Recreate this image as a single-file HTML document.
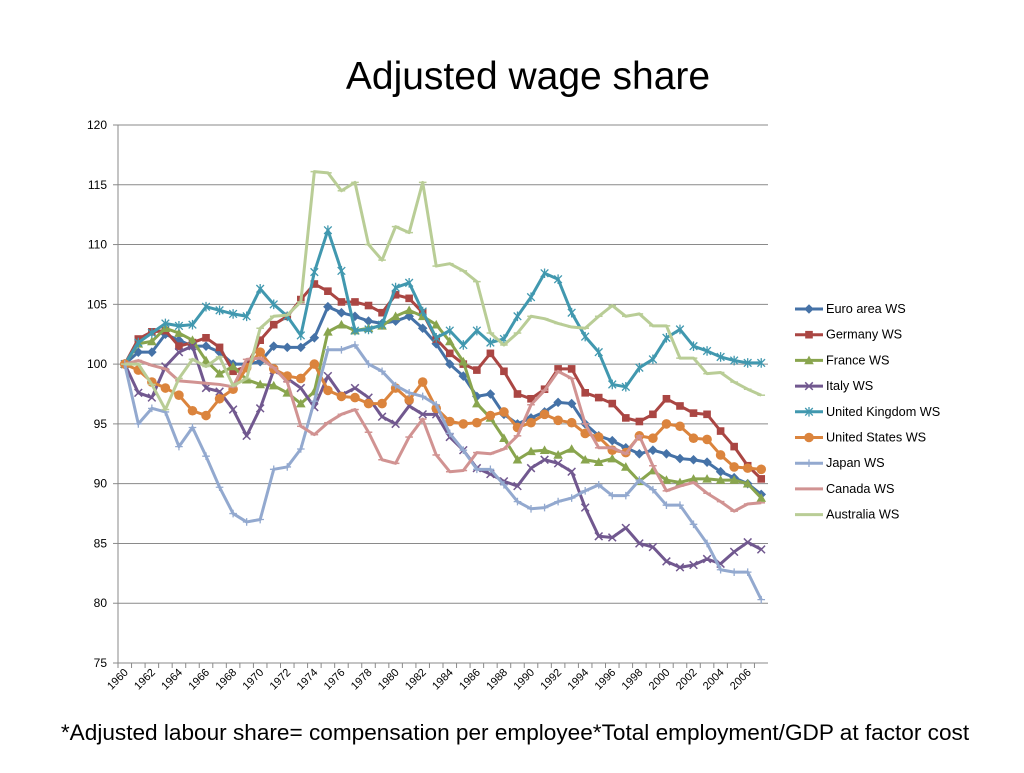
<!DOCTYPE html>
<html><head><meta charset="utf-8"><style>
body{margin:0;background:#fff;font-family:"Liberation Sans",sans-serif}
</style></head><body>
<svg id="c" width="1024" height="768" xmlns="http://www.w3.org/2000/svg" font-family="Liberation Sans, sans-serif">
<text x="528" y="89" font-size="39" text-anchor="middle">Adjusted wage share</text>
<text x="515" y="740" font-size="22.6" text-anchor="middle">*Adjusted labour share= compensation per employee*Total employment/GDP at factor cost</text>
</svg>
<script>
const years=[];for(let y=1960;y<=2007;y++)years.push(y);
const yTicks=[75,80,85,90,95,100,105,110,115,120];
const names=["Euro area WS","Germany WS","France WS","Italy WS","United Kingdom WS","United States WS","Japan WS","Canada WS","Australia WS"];
const euro=[100,101,101,102.5,102,101.5,101.5,101,100,100,100.2,101.5,101.4,101.4,102.2,104.8,104.3,104,103.6,103.4,103.6,104,103,101.7,100,99,97.3,97.5,95.8,95,95.5,96,96.8,96.7,95,94,93.6,93,92.5,92.8,92.5,92.1,92,91.8,91,90.5,90,89.1];
const germany=[100,102.1,102.7,102.8,101.5,101.8,102.2,101.4,99.4,99.8,102,103.3,104,105.4,106.7,106.1,105.2,105.2,104.9,104.3,105.8,105.5,104.3,102.1,100.9,100,99.5,100.9,99.4,97.5,97.1,97.9,99.6,99.6,97.6,97.2,96.7,95.5,95.2,95.8,97.1,96.5,95.9,95.8,94.4,93.1,91.5,90.4];
const france=[100,101.7,101.9,103,102.6,102,100.3,99.2,99.8,98.7,98.3,98.2,97.6,96.7,97.7,102.7,103.3,102.8,103,103.2,104,104.5,104,103.3,101.9,100.2,96.7,95.5,93.8,92,92.7,92.8,92.4,92.9,92,91.8,92.1,91.4,90.2,91.1,90.3,90.1,90.4,90.4,90.3,90.3,90,88.8];
const italy=[100,97.6,97.2,99.8,101,101.5,98,97.7,96.2,94,96.3,99.5,98.8,98,96.4,99,97.4,98,97.2,95.6,95,96.5,95.8,95.8,93.9,92.8,91.3,90.8,90.2,89.8,91.3,92,91.7,91,88,85.6,85.5,86.3,85,84.7,83.5,83,83.2,83.7,83.3,84.3,85.1,84.5];
const uk=[100,101.8,102.6,103.4,103.2,103.3,104.8,104.5,104.2,104,106.3,105,104,102.4,107.7,111.2,107.8,102.8,102.9,103.3,106.4,106.8,104.4,102.2,102.8,101.6,102.8,101.8,102.1,104,105.6,107.6,107.1,104.3,102.3,101,98.3,98.1,99.7,100.4,102.2,102.9,101.5,101.1,100.6,100.3,100.1,100.1];
const us=[100,99.5,98.5,98,97.4,96.1,95.7,97.1,97.9,99.7,101,99.6,99,98.8,100,97.8,97.3,97.2,96.7,96.7,98,97,98.5,96.3,95.2,95,95.1,95.7,96,94.7,95.1,95.8,95.3,95.1,94.2,93.9,92.8,92.6,94,93.8,95,94.8,93.8,93.7,92.4,91.4,91.3,91.2];
const japan=[100,95,96.3,96,93.1,94.7,92.3,89.7,87.5,86.8,87,91.2,91.4,92.9,96.9,101.2,101.2,101.6,100,99.4,98.2,97.6,97.3,96.6,94.2,92.8,91.2,91.2,89.9,88.5,87.9,88,88.5,88.8,89.4,89.9,89,89,90.3,89.5,88.2,88.2,86.6,85,82.8,82.6,82.6,80.3];
const canada=[100,100.3,99.9,99.6,98.6,98.5,98.4,98.3,98.1,100.4,100.5,99.7,98.5,94.8,94.1,95.1,95.8,96.2,94.3,92,91.7,93.9,95.4,92.4,91,91.1,92.6,92.5,92.9,94,96.6,97.8,99.4,98.8,95,93,93,92.5,94,91.5,89.4,89.8,90.1,89.2,88.5,87.7,88.3,88.4];
const australia=[100,100,98.3,96.2,98.8,100.4,99.8,100.6,98.2,98.8,103,104,104.1,105.2,116.1,116,114.5,115.2,110,108.7,111.5,111,115.2,108.2,108.4,107.8,106.9,102.6,101.6,102.6,104,103.8,103.4,103.1,103,104,104.9,104,104.2,103.2,103.2,100.5,100.5,99.2,99.3,98.5,97.9,97.4];
const seriesData=[euro,germany,france,italy,uk,us,japan,canada,australia];
const colors=["#4572A7","#AA4643","#89A54E","#71588F","#4198AF","#DB843D","#93A9CF","#D19392","#B9CD96"];
const markers=["diamond","square","triangle","x","star","circle","plus","dash","dash"];
const L=118,R=768,T=125,B=663,ymin=75,ymax=120;
const step=(R-L)/years.length;
const xs=i=>L+step*(i+0.5);
const ys=v=>B-(v-ymin)/(ymax-ymin)*(B-T);
const svg=document.getElementById('c');const NS="http://www.w3.org/2000/svg";
function mk(tag,a,p){const e=document.createElementNS(NS,tag);for(const k in a)e.setAttribute(k,a[k]);(p||svg).appendChild(e);return e;}
yTicks.forEach(v=>{
 const g=mk('line',{x1:L,x2:R,y1:ys(v),y2:ys(v),stroke:'#8a8a8a','stroke-width':1});
 
 
 const t=mk('text',{x:107,y:ys(v)+4,'font-size':12,'text-anchor':'end'});t.textContent=v;
 
 
 mk('line',{x1:L-5,x2:L,y1:ys(v),y2:ys(v),stroke:'#8a8a8a'});
});
const ax=mk('line',{x1:L,x2:L,y1:T,y2:B,stroke:'#8a8a8a'});


years.forEach((y,i)=>{
 mk('line',{x1:L+step*i,x2:L+step*i,y1:B,y2:B+5,stroke:'#8a8a8a'});
 if(i%2==0){const x=xs(i)+4,yy=B+10;const t=mk('text',{x:x,y:yy,'font-size':11,'text-anchor':'end',transform:`rotate(-45 ${x} ${yy})`});t.textContent=y;
 
 }
});
function marker(g,type,x,y,c){
 const s=3.8;
 if(type=='diamond')mk('polygon',{points:`${x},${y-s-1} ${x+s+1},${y} ${x},${y+s+1} ${x-s-1},${y}`,fill:c},g);
 else if(type=='square')mk('rect',{x:x-s,y:y-s,width:2*s,height:2*s,fill:c},g);
 else if(type=='triangle')mk('polygon',{points:`${x},${y-s-1} ${x+s+1},${y+s} ${x-s-1},${y+s}`,fill:c},g);
 else if(type=='circle')mk('circle',{cx:x,cy:y,r:s+1,fill:c},g);
 else if(type=='x'){mk('path',{d:`M${x-s},${y-s}L${x+s},${y+s}M${x-s},${y+s}L${x+s},${y-s}`,stroke:c,'stroke-width':1.5},g);}
 else if(type=='star'){mk('path',{d:`M${x-s},${y-s}L${x+s},${y+s}M${x-s},${y+s}L${x+s},${y-s}M${x},${y-s-1}L${x},${y+s+1}`,stroke:c,'stroke-width':1.3},g);}
 else if(type=='plus'){mk('path',{d:`M${x-s},${y}L${x+s},${y}M${x},${y-s}L${x},${y+s}`,stroke:c,'stroke-width':1.3},g);}
 else if(type=='dash'){mk('path',{d:`M${x-s},${y}L${x+s},${y}`,stroke:c,'stroke-width':1.5},g);}
}
seriesData.forEach((d,si)=>{
 const g=mk('g',{});
 
 
 mk('polyline',{points:d.map((v,i)=>xs(i)+','+ys(v)).join(' '),fill:'none',stroke:colors[si],'stroke-width':3,'stroke-linejoin':'round'},g);
 d.forEach((v,i)=>marker(g,markers[si],xs(i),ys(v),colors[si]));
 const ly=309+si*25.7;
 const lg=mk('g',{});
 
 
 mk('line',{x1:795,x2:823,y1:ly,y2:ly,stroke:colors[si],'stroke-width':3},lg);
 marker(lg,markers[si],809,ly,colors[si]);
 const t=mk('text',{x:826,y:ly+4,'font-size':12.7},lg);t.textContent=names[si];
});
</script>
</body></html>
